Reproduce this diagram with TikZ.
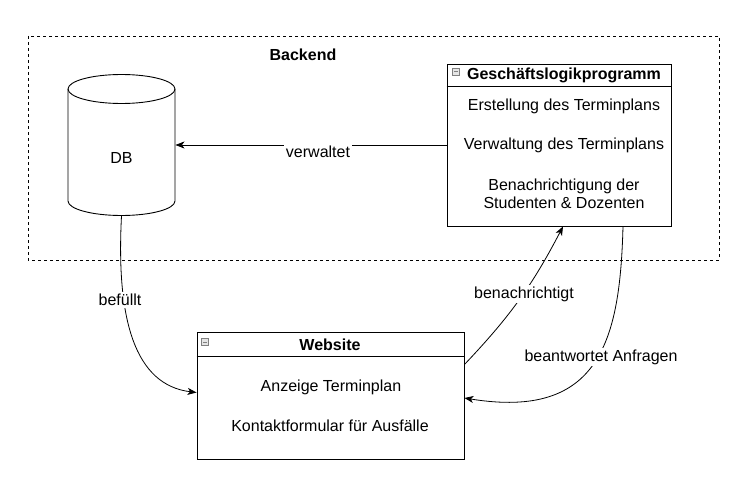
\documentclass[tikz,border=0pt]{standalone}
\usepackage{fontspec}
\setmainfont{Liberation Sans}
\usetikzlibrary{arrows.meta}

\begin{document}
\begin{tikzpicture}[x=1pt, y=1pt, line width=0.9pt,
    every node/.style={font=\fontsize{16}{18}\selectfont, inner sep=1pt},
    classbox/.style={draw, inner sep=0pt},
    head/.style={font=\fontsize{16}{18}\selectfont\bfseries},
    lbl/.style={fill=white, inner sep=2pt},
    conn/.style={-{Stealth[length=9pt, width=7pt, inset=2.5pt]}, line width=0.8pt},
    collapse/.style={draw=gray, fill=gray!20, line width=0.6pt, minimum size=7pt, inner sep=0pt,
        path picture={\draw[line width=0.8pt] ([xshift=1.5pt]path picture bounding box.west) -- ([xshift=-1.5pt]path picture bounding box.east);}}]
    \fill[white] (0,0) rectangle (752,-503);
    \draw[line width=0.8pt, dash pattern=on 3pt off 3pt] (28,-36) rectangle (719,-260);
    \node[head] (backend) at (303,-55) {Backend};

    \node[minimum width=107pt, minimum height=141pt] (db) at (121.5,-145) {};
    \draw (68,-89) -- (68,-201) arc[start angle=180, end angle=360, x radius=53.5, y radius=14.5] -- (175,-89);
    \draw (121.5,-89) ellipse[x radius=53.5, y radius=14.5];
    \node (dblabel) at (121.5,-158) {DB};

    \node[classbox, minimum width=224pt, minimum height=162pt] (logic) at (559,-145) {};
    \draw ([yshift=-23pt]logic.north west) -- ([yshift=-23pt]logic.north east);
    \node[collapse] (logicicon) at (456,-71.5) {};
    \node[head] (logictitle) at (564,-75) {Geschäftslogikprogramm};
    \node (create) at (564,-106) {Erstellung des Terminplans};
    \node (manage) at (564,-145) {Verwaltung des Terminplans};
    \node[align=center] (notify) at (564,-194) {Benachrichtigung der\\Studenten \& Dozenten};

    \node[classbox, minimum width=267pt, minimum height=127pt] (web) at (330.5,-395.5) {};
    \draw ([yshift=-25pt]web.north west) -- ([yshift=-25pt]web.north east);
    \node[collapse] (webicon) at (205,-342) {};
    \node[head] (webtitle) at (330,-345) {Website};
    \node (show) at (331,-387) {Anzeige Terminplan};
    \node (contact) at (330,-426) {Kontaktformular für Ausfälle};

    \draw[conn] (logic.west) -- (db.east);
    \node[lbl] (verw) at (318,-152) {verwaltet};
    \draw[conn] (db.south) .. controls (116,-320) and (135,-385) .. ([yshift=3pt]web.west);
    \node[lbl] (fill) at (120,-300) {befüllt};
    \draw[conn] ([yshift=31pt]web.east) to[bend right=8] ([xshift=4pt]logic.south);
    \node[lbl] (notifylbl) at (524,-294) {benachrichtigt};
    \draw[conn] ([xshift=64pt]logic.south) .. controls (620,-340) and (600,-420) .. ([yshift=-2.5pt]web.east);
    \node[lbl] (answer) at (601,-357) {beantwortet Anfragen};
\end{tikzpicture}
\end{document}
